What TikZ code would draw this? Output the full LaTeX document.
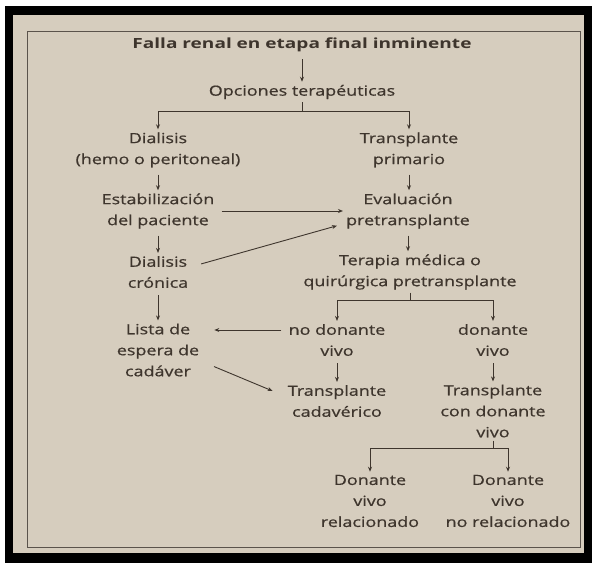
\documentclass[tikz,border=0pt]{standalone}
\usepackage{fontspec}
\setmainfont[FakeStretch=1.28,FakeBold=0.6]{Open Sans}
\newfontfamily\titlefont[FakeStretch=1.36]{Open Sans}
\usepackage{tikz}
\usetikzlibrary{arrows.meta}
\definecolor{papel}{RGB}{214,205,190}
\definecolor{tinta}{RGB}{62,53,45}

\begin{document}
\begin{tikzpicture}[x=1pt, y=-1pt,
		every node/.style={font=\fontsize{14}{21}\selectfont, text=tinta, align=center, inner sep=3pt},
		flecha/.style={-{Stealth[length=5pt,width=4pt]}, draw=tinta, line width=0.9pt, shorten <=4pt},
		rama/.style={draw=tinta, line width=0.9pt}]
		%---------------- FRAME ----------------
		\useasboundingbox (0,0) rectangle (592,567);
		\fill[white] (0,0) rectangle (592,567);
		\fill[black] (5,6) rectangle (592,563);
		\fill[papel] (13,15) rectangle (584,553);
		\draw[tinta!85, line width=1pt] (27,32) rectangle (580,547);
		
		%---------------- LEFT: DIALISIS ----------------
		\node[font=\titlefont\bfseries\fontsize{14}{21}\selectfont] (falla) at (302,45) {Falla renal en etapa final inminente};
		\node (opc) at (302,92) {Opciones terapéuticas};
		\node (dial) at (158,150) {Dialisis\\(hemo o peritoneal)};
		\node (estab) at (158,211) {Estabilización\\del paciente};
		\node (dcron) at (158,272) {Dialisis\\crónica};
		\node (lista) at (158,350) {Lista de\\espera de\\cadáver};
		
		%---------------- RIGHT: TRANSPLANTE ----------------
		\node (trp) at (409,150) {Transplante\\primario};
		\node (eval) at (408,211) {Evaluación\\pretransplante};
		\node (terap) at (410,272) {Terapia médica o\\quirúrgica pretransplante};
		\node (nodon) at (337,340) {no donante\\vivo};
		\node (don) at (493,340) {donante\\vivo};
		\node (tcad) at (337,401) {Transplante\\cadavérico};
		\node (tviv) at (493,411) {Transplante\\con donante\\vivo};
		\node (drel) at (370,501) {Donante\\vivo\\relacionado};
		\node (dnorel) at (508,501) {Donante\\vivo\\no relacionado};
		
		% branch points
		\coordinate (opcB) at ([yshift=-9pt]opc.south);
		\coordinate (terB) at ([yshift=-8pt]terap.south);
		\coordinate (tvivB) at ([yshift=-8pt]tviv.south);
		
		% straight arrows down
		\draw[flecha] (falla.south) -- (falla.south |- opc.north);
		\foreach \A/\B in {dial/estab,estab/dcron,dcron/lista,trp/eval,eval/terap,nodon/tcad,don/tviv} {
			\draw[flecha] (\A.south) -- (\A.south |- \B.north);
		}
		
		% branches
		\draw[rama] (opc.south) -- (opcB);
		\draw[flecha, shorten <=0pt] (opcB) -| (dial.north);
		\draw[flecha, shorten <=0pt] (opcB) -| (trp.north);
		\draw[rama] (terap.south) -- (terB);
		\draw[flecha, shorten <=0pt] (terB) -| (nodon.north);
		\draw[flecha, shorten <=0pt] (terB) -| (don.north);
		\draw[rama] (tviv.south) -- (tvivB);
		\draw[flecha, shorten <=0pt] (tvivB) -| (drel.north);
		\draw[flecha, shorten <=0pt] (tvivB) -| (dnorel.north);
		
		% cross arrows
		\draw[flecha] (estab.east) -- (estab.east -| eval.west);
		\draw[flecha] ([xshift=6pt,yshift=7pt]dcron.east) -- ([xshift=-6pt,yshift=6pt]eval.south west);
		\draw[flecha] ([yshift=10pt]nodon.west) -- ([xshift=12pt,yshift=10pt]nodon.west -| lista.east);
		\draw[flecha] ([xshift=8pt,yshift=-15pt]lista.east) -- ([xshift=-12pt,yshift=10pt]tcad.west);
	\end{tikzpicture}
\end{document}
